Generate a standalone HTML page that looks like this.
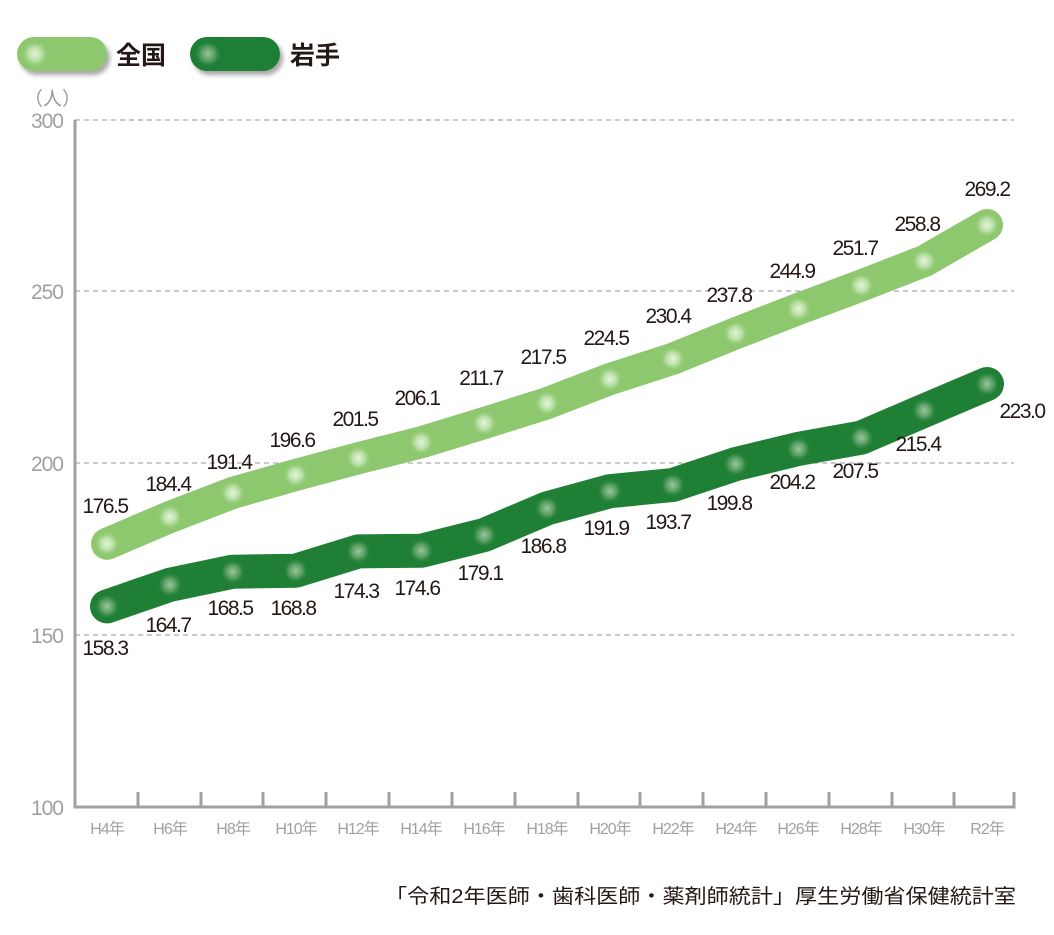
<!DOCTYPE html>
<html><head><meta charset="utf-8"><style>
html,body{margin:0;padding:0;background:#fff;}
svg{display:block;}
.t{font-family:"Liberation Sans","Noto Sans CJK JP",sans-serif;}
</style></head><body>
<svg width="1054" height="935" viewBox="0 0 1054 935" xmlns="http://www.w3.org/2000/svg" class="t">
<defs>
<radialGradient id="dl"><stop offset="0" stop-color="#e6f5dc"/><stop offset="0.5" stop-color="#c5e6b4" stop-opacity="0.8"/><stop offset="1" stop-color="#8dc76e" stop-opacity="0"/></radialGradient>
<radialGradient id="dd"><stop offset="0" stop-color="#9bc79d"/><stop offset="0.5" stop-color="#6aa871" stop-opacity="0.8"/><stop offset="1" stop-color="#1f7f34" stop-opacity="0"/></radialGradient>
<filter id="sh" x="-10%" y="-10%" width="130%" height="140%"><feDropShadow dx="3" dy="4" stdDeviation="2.5" flood-color="#000" flood-opacity="0.35"/></filter>
</defs>
<rect x="17" y="37" width="90" height="34" rx="17" fill="#8dc76e" filter="url(#sh)"/>
<circle cx="35" cy="54" r="14" fill="url(#dl)"/>
<text x="116" y="64" font-size="25" font-weight="bold" fill="#231815">全国</text>
<rect x="190" y="37" width="90" height="34" rx="17" fill="#1f7f34" filter="url(#sh)"/>
<circle cx="208" cy="54" r="14" fill="url(#dd)"/>
<text x="290" y="64" font-size="25" font-weight="bold" fill="#231815">岩手</text>
<text x="24" y="105" font-size="19" fill="#9a9a9a">（人）</text>
<g stroke="#aaa" stroke-width="1.3" stroke-dasharray="5,4">
<line x1="75" y1="120" x2="1014" y2="120"/><line x1="75" y1="291" x2="1014" y2="291"/>
<line x1="75" y1="463" x2="1014" y2="463"/><line x1="75" y1="635" x2="1014" y2="635"/>
</g>
<g font-size="21" fill="#a0a0a0" text-anchor="end" letter-spacing="-1">
<text x="63" y="128">300</text><text x="63" y="299">250</text><text x="63" y="471">200</text><text x="63" y="643">150</text><text x="63" y="815">100</text>
</g>
<g stroke="#a0a0a0" stroke-width="3" fill="none">
<polyline points="75,120 75,807 1014,807 1014,792"/>
<path d="M138,807V792M201,807V792M263,807V792M326,807V792M389,807V792M452,807V792M515,807V792M578,807V792M640,807V792M703,807V792M766,807V792M829,807V792M892,807V792M954,807V792"/>
</g>
<g font-size="16" fill="#a0a0a0" text-anchor="middle" letter-spacing="-1">
<text x="107" y="834">H4年</text><text x="170" y="834">H6年</text><text x="233" y="834">H8年</text><text x="296" y="834">H10年</text><text x="358" y="834">H12年</text><text x="421" y="834">H14年</text><text x="484" y="834">H16年</text><text x="547" y="834">H18年</text><text x="610" y="834">H20年</text><text x="673" y="834">H22年</text><text x="736" y="834">H24年</text><text x="798" y="834">H26年</text><text x="861" y="834">H28年</text><text x="924" y="834">H30年</text><text x="987" y="834">R2年</text>
</g>
<polyline fill="none" stroke="#8dc76e" stroke-width="32" stroke-linecap="round" stroke-linejoin="round" points="107,543.8 169.9,517 232.7,492.9 295.6,475 358.4,458.2 421.3,442.3 484.2,423.1 547,403.2 609.9,379.1 672.7,358.8 735.6,333.3 798.5,308.9 861.3,285.5 924.2,261.1 987,225"/>
<polyline fill="none" stroke="#1f7f34" stroke-width="34" stroke-linecap="round" stroke-linejoin="round" points="107,606.4 169.9,584.8 232.7,571.7 295.6,570.7 358.4,551.4 421.3,550.7 484.2,535 547,508.4 609.9,491.2 672.7,485 735.6,464.1 798.5,448.9 861.3,437.6 924.2,410.6 987,384"/>
<g fill="url(#dl)">
<circle cx="107" cy="543.8" r="13"/><circle cx="169.9" cy="517" r="13"/><circle cx="232.7" cy="492.9" r="13"/><circle cx="295.6" cy="475" r="13"/><circle cx="358.4" cy="458.2" r="13"/><circle cx="421.3" cy="442.3" r="13"/><circle cx="484.2" cy="423.1" r="13"/><circle cx="547" cy="403.2" r="13"/><circle cx="609.9" cy="379.1" r="13"/><circle cx="672.7" cy="358.8" r="13"/><circle cx="735.6" cy="333.3" r="13"/><circle cx="798.5" cy="308.9" r="13"/><circle cx="861.3" cy="285.5" r="13"/><circle cx="924.2" cy="261.1" r="13"/><circle cx="987" cy="225" r="13"/>
</g>
<g fill="url(#dd)">
<circle cx="107" cy="606.4" r="13"/><circle cx="169.9" cy="584.8" r="13"/><circle cx="232.7" cy="571.7" r="13"/><circle cx="295.6" cy="570.7" r="13"/><circle cx="358.4" cy="551.4" r="13"/><circle cx="421.3" cy="550.7" r="13"/><circle cx="484.2" cy="535" r="13"/><circle cx="547" cy="508.4" r="13"/><circle cx="609.9" cy="491.2" r="13"/><circle cx="672.7" cy="485" r="13"/><circle cx="735.6" cy="464.1" r="13"/><circle cx="798.5" cy="448.9" r="13"/><circle cx="861.3" cy="437.6" r="13"/><circle cx="924.2" cy="410.6" r="13"/><circle cx="987" cy="384" r="13"/>
</g>
<g font-size="21" fill="#231815" text-anchor="middle" letter-spacing="-1.5">
<text x="105" y="513">176.5</text><text x="168" y="491">184.4</text><text x="229" y="469">191.4</text><text x="292" y="447">196.6</text><text x="355" y="426">201.5</text><text x="417" y="405">206.1</text><text x="481" y="385">211.7</text><text x="543" y="364">217.5</text><text x="606" y="345">224.5</text><text x="668" y="323">230.4</text><text x="729" y="302">237.8</text><text x="792" y="278">244.9</text><text x="855" y="255">251.7</text><text x="917" y="231">258.8</text><text x="987" y="196">269.2</text>
<text x="105" y="655">158.3</text><text x="168" y="632">164.7</text><text x="230" y="615">168.5</text><text x="293" y="615">168.8</text><text x="356" y="598">174.3</text><text x="417" y="595">174.6</text><text x="480" y="580">179.1</text><text x="543" y="553">186.8</text><text x="606" y="535">191.9</text><text x="668" y="529">193.7</text><text x="729" y="510">199.8</text><text x="792" y="489">204.2</text><text x="855" y="478">207.5</text><text x="918" y="451">215.4</text><text x="1022" y="418">223.0</text>
</g>
<text x="385" y="903" font-size="20" fill="#231815" textLength="631" lengthAdjust="spacingAndGlyphs">「令和2年医師・歯科医師・薬剤師統計」厚生労働省保健統計室</text>
</svg>
</body></html>
